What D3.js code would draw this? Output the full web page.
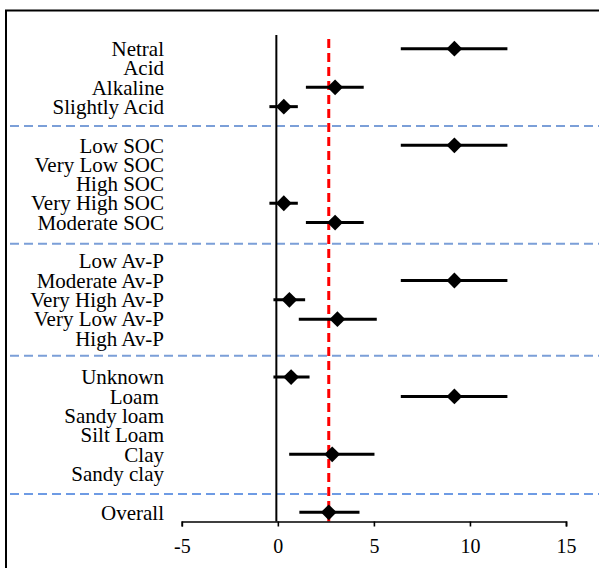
<!DOCTYPE html>
<html>
<head>
<meta charset="utf-8">
<script src="https://cdn.jsdelivr.net/npm/d3@7"></script>
<style>
  body { margin: 0; background: white; }
</style>
</head>
<body>
<div id="chart"></div>
<script>
// rows, top to bottom ("" = gap row holding a separator)
var labels = ["Netral", "Acid", "Alkaline", "Slightly Acid", "",
  "Low SOC", "Very Low SOC", "High SOC", "Very High SOC", "Moderate SOC", "",
  "Low Av-P", "Moderate Av-P", "Very High Av-P", "Very Low Av-P", "High Av-P", "",
  "Unknown", "Loam\u00A0", "Sandy loam", "Silt Loam", "Clay", "Sandy clay", "",
  "Overall"];
var est = [9.19, null, 2.98, 0.31, null,
  9.19, null, null, 0.31, 2.98, null,
  null, 9.19, 0.60, 3.10, null, null,
  0.69, 9.19, null, null, 2.83, null, null,
  2.65];
var lower = [6.40, null, 1.46, -0.44, null,
  6.40, null, null, -0.44, 1.46, null,
  null, 6.40, -0.23, 1.09, null, null,
  -0.23, 6.40, null, null, 0.59, null, null,
  1.12];
var upper = [11.95, null, 4.47, 1.04, null,
  11.95, null, null, 1.04, 4.47, null,
  null, 11.95, 1.42, 5.15, null, null,
  1.65, 11.95, null, null, 5.03, null, null,
  4.25];
var separators = [4, 10.1, 15.9, 23.05];
var xTicks = [-5, 0, 5, 10, 15];
var pooled = 2.65;

var serif = "'Liberation Serif', 'DejaVu Serif', serif";

var W = 599, H = 568;
var svg = d3.select("#chart").append("svg")
    .attr("width", W)
    .attr("height", H);

// outer frame (right/bottom edges fall outside the picture)
svg.append("rect")
    .attr("x", 6).attr("y", 10.5)
    .attr("width", 700).attr("height", 700)
    .attr("fill", "none")
    .attr("stroke", "black")
    .attr("stroke-width", 2);

var x = d3.scaleLinear().domain([-5, 15]).range([181.8, 566]);
var y = d3.scaleLinear().domain([0, labels.length - 1]).range([48.7, 512.3]);
var axisY = 521.5;

// separators
svg.selectAll("line.sep")
    .data(separators)
    .enter()
    .append("line")
    .attr("class", "sep")
    .attr("x1", 10).attr("x2", W)
    .attr("y1", function(d) { return y(d); })
    .attr("y2", function(d) { return y(d); })
    .attr("stroke", function(d, i) { return i == separators.length - 1 ? "#3f7bdc" : "#7b9fd8"; })
    .attr("stroke-width", function(d, i) { return i == separators.length - 1 ? 1.6 : 2; })
    .attr("stroke-dasharray", "9,5");

// zero line
svg.append("line")
    .attr("x1", x(0) - 1.5).attr("x2", x(0) - 1.5)
    .attr("y1", 35).attr("y2", axisY)
    .attr("stroke", "black")
    .attr("stroke-width", 2);

// pooled estimate line
svg.append("line")
    .attr("x1", x(pooled)).attr("x2", x(pooled))
    .attr("y1", 39).attr("y2", axisY)
    .attr("stroke", "#ff0000")
    .attr("stroke-width", 3)
    .attr("stroke-dasharray", "9,5");

var rows = d3.range(labels.length).filter(function(i) { return est[i] != null; });

svg.selectAll("line.ci")
    .data(rows)
    .enter()
    .append("line")
    .attr("class", "ci")
    .attr("x1", function(i) { return x(lower[i]); })
    .attr("x2", function(i) { return x(upper[i]); })
    .attr("y1", function(i) { return y(i); })
    .attr("y2", function(i) { return y(i); })
    .attr("stroke", "black")
    .attr("stroke-width", 3);

svg.selectAll("path.pt")
    .data(rows)
    .enter()
    .append("path")
    .attr("class", "pt")
    .attr("d", d3.symbol(d3.symbolSquare, 125))
    .attr("transform", function(i) { return "translate(" + x(est[i]) + "," + y(i) + ") rotate(45)"; })
    .attr("fill", "black");

// x axis
var gx = svg.append("g")
    .attr("transform", "translate(0," + axisY + ")")
    .call(d3.axisBottom(x).tickValues(xTicks).tickSize(5).tickSizeOuter(5).tickPadding(12)
        .tickFormat(function(d) { return String(d); }));
gx.selectAll("path, line").attr("stroke", "black").attr("stroke-width", 1.6);
gx.selectAll("text").style("font-family", serif).style("font-size", "20px").attr("fill", "black");

// row labels
var gy = svg.append("g")
    .attr("transform", "translate(164,0)")
    .call(d3.axisLeft(y)
        .tickValues(d3.range(labels.length).filter(function(i) { return labels[i] != ""; }))
        .tickFormat(function(i) { return labels[i]; })
        .tickSize(0).tickPadding(0));
gy.select(".domain").remove();
gy.selectAll("text").style("font-family", serif).style("font-size", "21px").attr("fill", "black");
</script>
</body>
</html>
